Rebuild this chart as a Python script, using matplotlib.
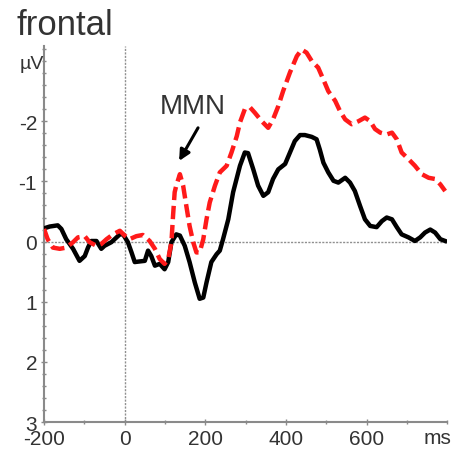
import numpy as np
import matplotlib.pyplot as plt
from matplotlib.ticker import MultipleLocator

plt.rcParams.update({
    "font.family": ["Liberation Sans", "DejaVu Sans"],
    "font.size": 15,
    "axes.unicode_minus": False,
})

# standard response (black, solid)
t_std = [-200, -186, -166, -157, -145, -128, -112, -99, -91, -83, -70, -58, -50, -33,
         -12, -4, 8, 17, 25, 37, 50, 58, 66, 75, 87, 99, 108, 116, 128, 137, 149, 161,
         174, 186, 195, 203, 215, 228, 236, 244, 257, 269, 286, 298, 306, 319, 331, 344,
         356, 368, 381, 398, 410, 422, 435, 447, 464, 476, 484, 493, 505, 518, 530, 547,
         559, 571, 584, 596, 609, 625, 638, 650, 663, 675, 687, 704, 720, 733, 745, 758,
         770, 783, 795]
v_std = [-0.22, -0.25, -0.27, -0.21, -0.04, 0.12, 0.32, 0.24, 0.10, -0.01, -0.01, 0.12, 0.07, 0.01,
         -0.12, -0.12, 0.01, 0.18, 0.34, 0.33, 0.32, 0.15, 0.24, 0.40, 0.37, 0.46, 0.34, 0.01,
         -0.12, -0.10, 0.07, 0.34, 0.68, 0.95, 0.93, 0.68, 0.34, 0.21, 0.15, -0.04, -0.37, -0.82,
         -1.26, -1.48, -1.47, -1.20, -0.93, -0.76, -0.82, -1.04, -1.20, -1.29, -1.48, -1.67, -1.77,
         -1.77, -1.74, -1.70, -1.53, -1.31, -1.15, -1.01, -0.98, -1.06, -0.98, -0.84, -0.59, -0.37,
         -0.26, -0.24, -0.34, -0.40, -0.37, -0.24, -0.12, -0.07, -0.01, -0.07, -0.15, -0.20, -0.15,
         -0.04, -0.01]

# deviant response (red, dashed)
t_dev = [-200, -191, -178, -161, -145, -128, -116, -99, -87, -70, -58, -45, -29, -12, 0, 12,
         29, 45, 62, 75, 87, 99, 108, 116, 120, 124, 128, 137, 145, 153, 161, 170, 178, 186,
         195, 203, 211, 224, 236, 253, 265, 278, 286, 298, 311, 323, 340, 356, 368, 381, 393,
         410, 427, 439, 451, 464, 480, 493, 505, 522, 534, 547, 563, 580, 596, 609, 621, 634,
         650, 663, 675, 687, 704, 720, 737, 754, 770, 783, 795]
v_dev = [-0.21, -0.04, 0.10, 0.12, 0.10, 0.01, -0.07, -0.09, 0.01, 0.07, 0.04, -0.04, -0.12,
         -0.18, -0.10, -0.04, -0.09, -0.11, -0.01, 0.12, 0.29, 0.37, 0.29, 0.01, -0.43, -0.82,
         -0.93, -1.12, -0.93, -0.59, -0.26, 0.01, 0.18, 0.18, -0.04, -0.37, -0.65, -0.93, -1.15,
         -1.26, -1.48, -1.75, -1.98, -2.20, -2.23, -2.14, -2.00, -1.89, -2.03, -2.25, -2.50,
         -2.81, -3.08, -3.19, -3.14, -3.00, -2.89, -2.69, -2.50, -2.34, -2.17, -2.03, -1.95,
         -2.00, -2.06, -2.00, -1.87, -1.81, -1.78, -1.81, -1.70, -1.48, -1.37, -1.26, -1.12,
         -1.06, -1.04, -0.95, -0.84]

x_ticks = [-200, 0, 200, 400, 600]
y_ticks = [-2, -1, 0, 1, 2, 3]

AXIS_GREY = "#8a8a8a"
TEXT_COLOR = "#333333"

fig = plt.figure(figsize=(4.54, 4.56), dpi=100)
ax = fig.add_axes([0.097, 0.072, 0.888, 0.825])

ax.axhline(0, color="#8f8f8f", lw=1.0, ls=(0, (1.5, 1.0)), zorder=1)
ax.axvline(0, color="#8f8f8f", lw=1.0, ls=(0, (1.5, 1.0)), zorder=1)

ax.plot(t_std, v_std, color="black", lw=3.2, solid_joinstyle="round", zorder=3)
ax.plot(t_dev, v_dev, color="#ff1a1a", lw=3.2, dashes=(3.0, 1.3), zorder=4)

ax.set_xlim(-200, 800)
ax.set_ylim(3, -3.25)

ax.set_xticks(x_ticks)
ax.xaxis.set_minor_locator(MultipleLocator(100))
ax.set_yticks(y_ticks)
ax.set_yticklabels([str(v) for v in y_ticks])
ax.yaxis.set_minor_locator(MultipleLocator(0.2))
ax.tick_params(axis="both", which="major", direction="inout", length=4, width=1,
               color=AXIS_GREY, labelcolor=TEXT_COLOR, labelsize=15)
ax.tick_params(axis="both", which="minor", direction="inout", length=3, width=1,
               color=AXIS_GREY)
ax.tick_params(axis="x", pad=3)
ax.tick_params(axis="y", pad=3)

ax.spines[["top", "right"]].set_visible(False)
for side in ["left", "bottom"]:
    ax.spines[side].set_color(AXIS_GREY)
    ax.spines[side].set_linewidth(1.5)

ax.text(775, 3.1, "ms", ha="center", va="top", fontsize=15, color=TEXT_COLOR)

ax.annotate("", xy=(135, -1.34), xytext=(182, -1.89),
            arrowprops=dict(arrowstyle="-|>", color="black", lw=2.2,
                            mutation_scale=16, shrinkA=0, shrinkB=0))
ax.text(170, -2.25, "MMN", ha="center", va="center", fontsize=20, color=TEXT_COLOR)

fig.text(0.037, 0.923, "frontal", ha="left", va="baseline", fontsize=25, color=TEXT_COLOR)
fig.text(0.097, 0.848, "µV", ha="right", va="baseline", fontsize=14, color=TEXT_COLOR)

fig.savefig("out.png", dpi=100, facecolor="white")
